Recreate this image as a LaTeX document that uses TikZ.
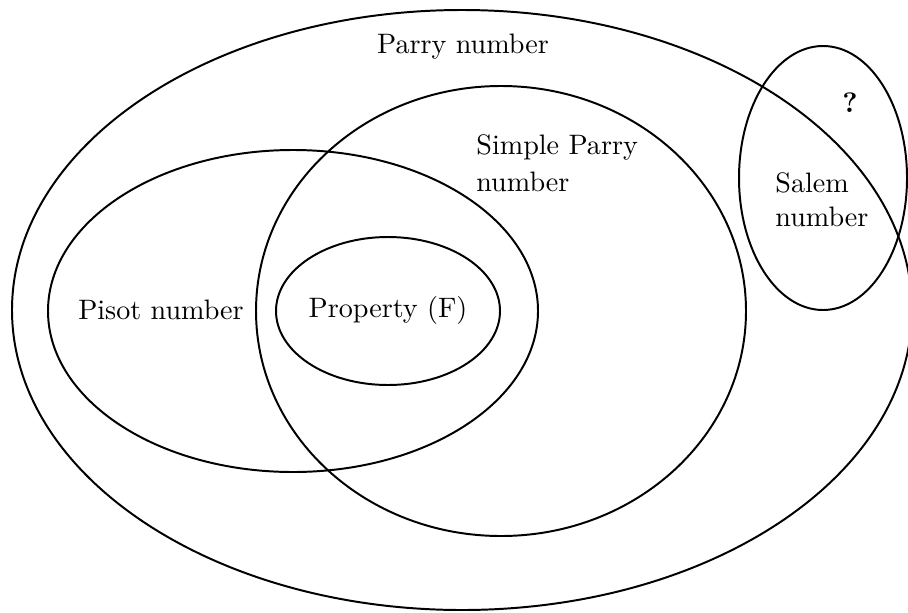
\documentclass[tikz,border=0pt]{standalone}
\usepackage{amsmath}
\usepackage{tikz}

\begin{document}
\begin{tikzpicture}[x=0.0125cm,y=-0.0125cm,line width=0.7pt]
		\useasboundingbox (0,0) rectangle (908,612);
		\draw (462,310) ellipse (450 and 300);
		\draw (293,311) ellipse (245 and 161);
		\draw (501,311) ellipse (245 and 225);
		\draw (388,311) ellipse (112 and 74);
		\draw (823,178) ellipse (84 and 132);
		\node (parry) at (463,47) {Parry number};
		\node[right,align=left] (simple) at (466,163) {Simple Parry\\[1pt]number};
		\node (pisot) at (161,310) {Pisot number};
		\node (propF) at (388,310) {Property (F)};
		\node[right,align=left] (salem) at (765,200) {Salem\\number};
		\node (quest) at (850,103) {\textbf{?}};
	\end{tikzpicture}
\end{document}
